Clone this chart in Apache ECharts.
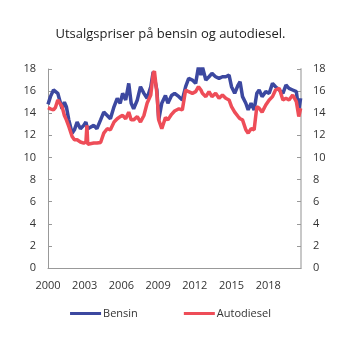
<!DOCTYPE html>
<html>
<head>
<meta charset="utf-8">
<script src="https://cdn.jsdelivr.net/npm/echarts@6/dist/echarts.min.js"></script>
<style>html,body{margin:0;padding:0;background:#fff}#c{width:341px;height:341px}</style>
</head>
<body>
<div id="c"></div>
<script>
const dates = [2000.0,2000.2,2000.45,2000.6,2000.8,2000.95,2001.15,2001.34,2001.5,2001.7,2001.97,2002.16,2002.38,2002.65,2002.92,2003.1,2003.18,2003.25,2003.4,2003.74,2004.0,2004.3,2004.56,2004.84,2005.1,2005.4,2005.66,2005.9,2006.1,2006.35,2006.6,2006.8,2007.0,2007.3,2007.56,2007.84,2008.1,2008.4,2008.6,2008.7,2008.9,2009.05,2009.3,2009.6,2009.8,2010.1,2010.35,2010.7,2010.98,2011.25,2011.5,2011.8,2012.07,2012.3,2012.5,2012.62,2012.9,2013.16,2013.4,2013.7,2013.98,2014.26,2014.53,2014.8,2015.0,2015.26,2015.54,2015.7,2015.9,2016.17,2016.36,2016.6,2016.85,2017.07,2017.26,2017.5,2017.8,2018.08,2018.35,2018.6,2018.9,2019.2,2019.45,2019.7,2020.0,2020.3,2020.5,2020.65];
const bensin = [14.8,15.5,16.1,16.0,15.8,15.2,14.4,15.0,14.6,13.4,12.2,12.5,13.2,12.6,12.9,13.2,12.8,12.6,12.5,12.9,12.6,13.4,14.1,13.8,13.5,14.6,15.35,14.9,15.8,15.2,16.7,14.9,14.4,15.2,16.4,15.8,15.35,16.4,17.75,17.9,16.1,13.4,14.9,15.6,14.9,15.6,15.8,15.5,15.2,16.4,17.15,17.0,16.7,18.2,17.45,18.2,17.0,17.3,17.6,17.3,17.15,17.3,17.3,17.45,16.4,15.8,16.55,16.85,15.5,14.9,14.3,14.9,14.3,15.8,16.1,15.5,15.95,15.8,16.7,16.4,16.1,15.8,16.55,16.25,16.1,15.95,14.3,15.35];
const diesel = [14.5,14.4,14.3,14.5,15.2,15.2,14.6,13.8,13.4,12.8,11.9,11.6,11.6,11.4,11.3,11.4,12.9,11.2,11.1,11.3,11.3,11.35,12.2,12.6,12.5,13.2,13.5,13.7,13.8,13.5,14.1,13.4,13.4,13.7,13.2,13.8,14.9,15.65,17.6,17.8,15.8,13.4,12.6,13.6,13.4,13.9,14.2,14.4,14.3,16.1,15.95,15.8,15.95,16.4,16.1,15.8,15.5,15.95,15.5,15.8,15.35,15.65,15.35,15.2,14.6,14.1,13.7,13.5,13.4,12.5,12.2,12.6,12.5,14.6,14.45,14.1,14.75,15.2,15.5,16.1,16.25,15.2,15.35,15.2,15.65,15.05,13.7,14.45];
const yTicks = [0,2,4,6,8,10,12,14,16,18];
const startYear = 2000;

const font = "'Open Sans', 'Noto Sans', sans-serif";
const toPts = arr => arr.map((v, i) => [dates[i] - startYear, v]);
const yAxisCommon = {
  type: 'value', min: yTicks[0], max: yTicks[yTicks.length - 1], interval: 2,
  splitLine: { show: false },
  axisTick: { show: true, inside: true, length: 4, lineStyle: { color: '#999' } },
  axisLabel: { color: '#333', fontSize: 11, fontFamily: font, margin: 12 }
};
const chart = echarts.init(document.getElementById('c'));
chart.setOption({
  animation: false,
  title: { text: 'Utsalgspriser på bensin og autodiesel.', left: 'center', top: 23,
    textStyle: { fontSize: 13, fontWeight: 'normal', color: '#222', fontFamily: font } },
  legend: { bottom: 17, left: 'center', itemWidth: 31, itemHeight: 3, itemGap: 46,
    icon: 'rect', textStyle: { fontSize: 11, color: '#333', fontFamily: font, padding: [0,0,0,-3] },
    data: ['Bensin', 'Autodiesel'] },
  grid: { left: 48, right: 40, top: 69, bottom: 73 },
  xAxis: { type: 'value', min: 0, max: 20.68, interval: 3,
    axisLine: { lineStyle: { color: '#999', width: 1 } },
    axisTick: { show: false }, splitLine: { show: false },
    axisLabel: { color: '#333', fontSize: 11, fontFamily: font, margin: 12, showMaxLabel: false,
      formatter: v => String(v + startYear) } },
  yAxis: [
    Object.assign({}, yAxisCommon, { position: 'left',
      axisLine: { show: true, lineStyle: { color: '#999', width: 1 } } }),
    Object.assign({}, yAxisCommon, { position: 'right',
      axisLine: { show: true, lineStyle: { color: '#c8c8c8', width: 2 } } })
  ],
  series: [
    { name: 'Bensin', type: 'line', data: toPts(bensin), showSymbol: false,
      lineStyle: { color: '#3c48a0', width: 3.5 }, itemStyle: { color: '#3c48a0' } },
    { name: 'Autodiesel', type: 'line', data: toPts(diesel), showSymbol: false,
      lineStyle: { color: '#ee4d58', width: 3.5 }, itemStyle: { color: '#ee4d58' } }
  ]
});
</script>
</body>
</html>
